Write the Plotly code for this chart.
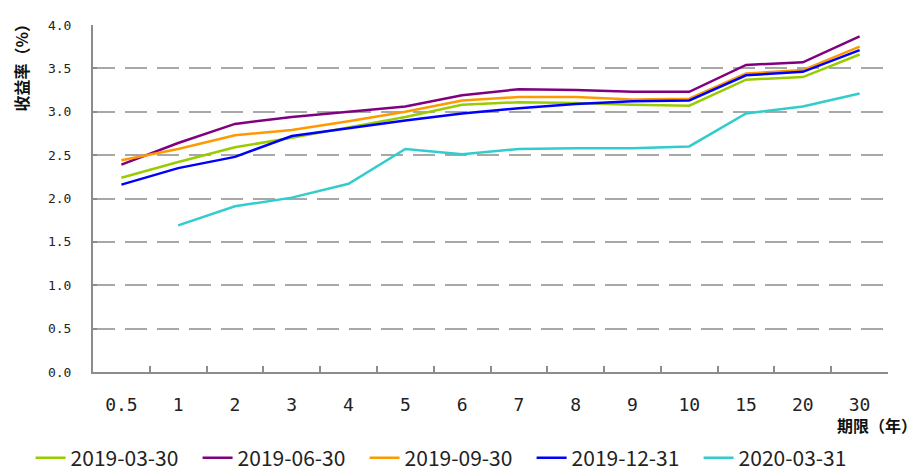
import plotly.graph_objects as go

terms = ["0.5", "1", "2", "3", "4", "5", "6", "7", "8", "9", "10", "15", "20", "30"]
s_20190330 = [2.24, 2.42, 2.59, 2.70, 2.82, 2.94, 3.08, 3.11, 3.10, 3.08, 3.07, 3.37, 3.40, 3.66]
s_20190630 = [2.39, 2.64, 2.86, 2.94, 3.00, 3.06, 3.19, 3.26, 3.25, 3.23, 3.23, 3.54, 3.57, 3.87]
s_20190930 = [2.44, 2.57, 2.73, 2.79, 2.89, 3.00, 3.13, 3.17, 3.17, 3.14, 3.15, 3.44, 3.48, 3.75]
s_20191231 = [2.16, 2.35, 2.48, 2.72, 2.81, 2.90, 2.98, 3.04, 3.09, 3.12, 3.13, 3.42, 3.46, 3.71]
s_20200331 = [None, 1.69, 1.91, 2.01, 2.17, 2.57, 2.51, 2.57, 2.58, 2.58, 2.60, 2.98, 3.06, 3.21]

series_names = ["2019-03-30", "2019-06-30", "2019-09-30", "2019-12-31", "2020-03-31"]
series_values = [s_20190330, s_20190630, s_20190930, s_20191231, s_20200331]
colors = ["#99CC00", "#800080", "#FF9900", "#0000FF", "#33CCCC"]

fig = go.Figure()
for name, vals, col in zip(series_names, series_values, colors):
    fig.add_trace(go.Scatter(
        x=terms, y=vals, name=name, mode="lines",
        line=dict(color=col, width=2.5),
        connectgaps=False,
    ))

axis_gray = "#8C8C8C"
fig.update_layout(
    width=909, height=464,
    margin=dict(l=85, r=29, t=17, b=100, autoexpand=False),
    paper_bgcolor="white", plot_bgcolor="white",
    showlegend=True,
    legend=dict(
        orientation="h", x=-0.0785, xanchor="left", y=(372 - 458) / 347, yanchor="middle",
        font=dict(family="Noto Sans CJK SC", size=21, color="#222"),
        entrywidth=122, entrywidthmode="pixels",
        itemwidth=30, tracegroupgap=0,
    ),
    xaxis=dict(
        type="category", range=[-0.5, 13.5],
        showgrid=False, zeroline=False,
        showline=True, linecolor=axis_gray, linewidth=2,
        ticks="inside", tickson="boundaries", ticklen=6, tickwidth=2, tickcolor=axis_gray,
        tickfont=dict(family="DejaVu Sans Mono", size=18, color="#222"),
        ticklabelstandoff=15,
    ),
    yaxis=dict(
        range=[0, 4], dtick=0.5, tickformat=".1f",
        showgrid=True, gridcolor="#A8A8A8", gridwidth=1.5, griddash="22px,10px",
        zeroline=False,
        showline=True, linecolor=axis_gray, linewidth=2,
        ticks="inside", ticklen=4, tickwidth=1.5, tickcolor=axis_gray,
        tickfont=dict(family="DejaVu Sans Mono", size=13, color="#222"),
        ticklabelstandoff=17,
    ),
    annotations=[
        dict(text="<b>收益率（%）</b>", textangle=-90, xref="paper", yref="paper",
             x=(21 - 93) / 795, y=(372 - 15) / 347, xanchor="center", yanchor="top",
             showarrow=False, font=dict(family="Noto Sans CJK SC", size=16, color="#111")),
        dict(text="<b>期限（年）</b>", xref="paper", yref="paper",
             x=(919 - 93) / 795, y=(372 - 425) / 347, xanchor="right", yanchor="middle",
             showarrow=False, font=dict(family="Noto Sans CJK SC", size=16, color="#111")),
    ],
)

fig.write_html("out.html")
